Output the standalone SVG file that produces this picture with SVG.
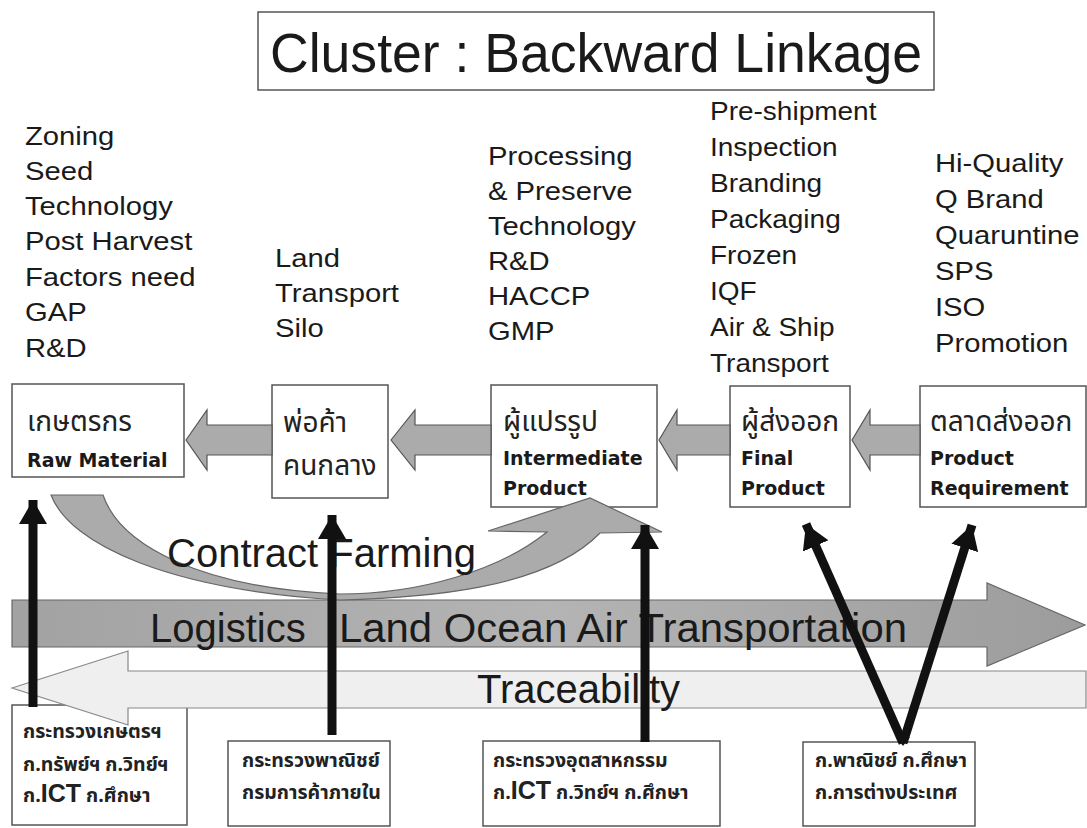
<svg xmlns="http://www.w3.org/2000/svg" width="1087" height="828" viewBox="0 0 1087 828">
<style>
.bg{fill:#ffffff}
.box{fill:#ffffff;stroke:#555;stroke-width:1.5}
.lst{font-family:"Liberation Sans",Arial,sans-serif;font-size:25px;fill:#1a1a1a}
.th{font-family:"Noto Sans Thai","Loma","Garuda","Norasi","Waree","Tlwg Typo","DejaVu Sans",sans-serif;font-size:28px;fill:#222}
.en{font-family:"DejaVu Sans",Verdana,sans-serif;font-weight:bold;font-size:19px;fill:#1a1a1a}
.thb{font-family:"Noto Sans Thai","Loma","Garuda","Norasi","Waree","Tlwg Typo","DejaVu Sans",sans-serif;font-weight:bold;font-size:19.5px;fill:#222}
.ict{font-family:"Liberation Sans",Arial,sans-serif;font-weight:bold;font-size:25px}
.big{font-family:"Liberation Sans",Arial,sans-serif;font-size:40px;fill:#1a1a1a}
.garrow{fill:#ababab;stroke:#555;stroke-width:1.2}
.blk{stroke:#111;stroke-width:9;fill:none}
</style>
<defs>
<marker id="ah" viewBox="0 0 24 28" refX="24" refY="14" markerWidth="24" markerHeight="28" markerUnits="userSpaceOnUse" orient="auto">
<path d="M0,0 L24,14 L0,28 Z" fill="#111"/>
</marker>
<linearGradient id="lg" x1="0" y1="0" x2="1" y2="0">
<stop offset="0" stop-color="#a2a2a2"/>
<stop offset="0.5" stop-color="#b4b4b4"/>
<stop offset="1" stop-color="#9c9c9c"/>
</linearGradient>
</defs>
<rect class="bg" x="0" y="0" width="1087" height="828"/>

<g id="title">
<rect x="258" y="12" width="676" height="78" class="box"/>
<text x="270" y="72" font-family="'Liberation Sans',Arial,sans-serif" font-size="55" fill="#1a1a1a" textLength="652" lengthAdjust="spacingAndGlyphs">Cluster : Backward Linkage</text>
</g>

<g id="lists">
<g transform="translate(25,0) scale(1.17,1)">
<text class="lst" x="0" y="145">Zoning</text>
<text class="lst" x="0" y="180">Seed</text>
<text class="lst" x="0" y="215">Technology</text>
<text class="lst" x="0" y="250">Post Harvest</text>
<text class="lst" x="0" y="286">Factors need</text>
<text class="lst" x="0" y="321">GAP</text>
<text class="lst" x="0" y="357">R&amp;D</text>
</g>
<g transform="translate(275,0) scale(1.17,1)">
<text class="lst" x="0" y="267">Land</text>
<text class="lst" x="0" y="302">Transport</text>
<text class="lst" x="0" y="337">Silo</text>
</g>
<g transform="translate(488,0) scale(1.17,1)">
<text class="lst" x="0" y="165">Processing</text>
<text class="lst" x="0" y="200">&amp; Preserve</text>
<text class="lst" x="0" y="235">Technology</text>
<text class="lst" x="0" y="270">R&amp;D</text>
<text class="lst" x="0" y="305">HACCP</text>
<text class="lst" x="0" y="340">GMP</text>
</g>
<g transform="translate(710,0) scale(1.12,1)">
<text class="lst" x="0" y="120">Pre-shipment</text>
<text class="lst" x="0" y="156">Inspection</text>
<text class="lst" x="0" y="192">Branding</text>
<text class="lst" x="0" y="228">Packaging</text>
<text class="lst" x="0" y="264">Frozen</text>
<text class="lst" x="0" y="300">IQF</text>
<text class="lst" x="0" y="336">Air &amp; Ship</text>
<text class="lst" x="0" y="372">Transport</text>
</g>
<g transform="translate(935,0) scale(1.17,1)">
<text class="lst" x="0" y="172">Hi-Quality</text>
<text class="lst" x="0" y="208">Q Brand</text>
<text class="lst" x="0" y="244">Quaruntine</text>
<text class="lst" x="0" y="280">SPS</text>
<text class="lst" x="0" y="316">ISO</text>
<text class="lst" x="0" y="352">Promotion</text>
</g>
</g>

<g id="n-farmer">
<rect class="box" x="12" y="384" width="172" height="93"/>
<text class="th" x="27" y="431">เกษตรกร</text>
<text class="en" x="27" y="467">Raw Material</text>
</g>
<g id="n-middleman">
<rect class="box" x="272" y="385" width="116" height="113"/>
<text class="th" x="283" y="432">พ่อค้า</text>
<text class="th" x="283" y="475">คนกลาง</text>
</g>
<g id="n-processor">
<rect class="box" x="491" y="385" width="166" height="122"/>
<text class="th" x="503" y="431">ผู้แปรรูป</text>
<text class="en" x="503" y="465">Intermediate</text>
<text class="en" x="503" y="495">Product</text>
</g>
<g id="n-exporter">
<rect class="box" x="730" y="386" width="120" height="121"/>
<text class="th" x="741" y="431">ผู้ส่งออก</text>
<text class="en" x="741" y="465">Final</text>
<text class="en" x="741" y="495">Product</text>
</g>
<g id="n-market">
<rect class="box" x="920" y="386" width="166" height="121"/>
<text class="th" x="930" y="431">ตลาดส่งออก</text>
<text class="en" x="930" y="465">Product</text>
<text class="en" x="930" y="495">Requirement</text>
</g>

<g id="g-agri">
<rect class="box" x="12" y="705" width="175" height="120"/>
<text class="thb" x="23" y="738">กระทรวงเกษตรฯ</text>
<text class="thb" x="23" y="771">ก.ทรัพย์ฯ ก.วิทย์ฯ</text>
<text class="thb" x="23" y="802">ก.<tspan class="ict">ICT</tspan> ก.ศึกษา</text>
</g>
<g id="g-commerce">
<rect class="box" x="228" y="741" width="162" height="85"/>
<text class="thb" x="242" y="767">กระทรวงพาณิชย์</text>
<text class="thb" x="242" y="799">กรมการค้าภายใน</text>
</g>
<g id="g-industry">
<rect class="box" x="483" y="741" width="237" height="85"/>
<text class="thb" x="493" y="767">กระทรวงอุตสาหกรรม</text>
<text class="thb" x="493" y="799">ก.<tspan class="ict">ICT</tspan> ก.วิทย์ฯ ก.ศึกษา</text>
</g>
<g id="g-foreign">
<rect class="box" x="803" y="742" width="172" height="84"/>
<text class="thb" x="815" y="767">ก.พาณิชย์ ก.ศึกษา</text>
<text class="thb" x="815" y="799">ก.การต่างประเทศ</text>
</g>

<g id="bands">
<path id="logistics" d="M12,600 L987,600 L987,583 L1085,625 L987,666 L987,647 L12,647 Z" fill="url(#lg)" stroke="#666" stroke-width="1.2"/>
<path id="traceability" d="M12,688 L128,651 L128,671 L1086,671 L1086,708 L128,708 L128,725 Z" fill="#efefef" stroke="#888" stroke-width="1.2"/>
<path id="contract" d="M51,495 C70,545 170,590 340,600 C420,598 545,590 600,533 L662,532 L590,498 L488,531 L547,532 C500,570 420,594 340,594 C200,588 120,545 103,495 Z" fill="#ababab" stroke="#666" stroke-width="1.2"/>
<text class="big" x="167" y="567">Contract Farming</text>
<text class="big" x="150" y="642">Logistics</text>
<text class="big" x="339" y="642" textLength="568" lengthAdjust="spacingAndGlyphs">Land Ocean Air Transportation</text>
<text class="big" x="477" y="703">Traceability</text>
</g>

<g id="connectors">
<path class="garrow" d="M186,440 L207,410 L207,425 L272,425 L272,455 L207,455 L207,470 Z"/>
<path class="garrow" d="M391,440 L415,410 L415,425 L491,425 L491,455 L415,455 L415,470 Z"/>
<path class="garrow" d="M659,440 L677,410 L677,425 L730,425 L730,455 L677,455 L677,470 Z"/>
<path class="garrow" d="M852,440 L870,410 L870,425 L920,425 L920,455 L870,455 L870,470 Z"/>
<line class="blk" x1="33" y1="707" x2="33" y2="500" marker-end="url(#ah)"/>
<line class="blk" x1="332" y1="735" x2="332" y2="515" marker-end="url(#ah)"/>
<line class="blk" x1="645" y1="742" x2="645" y2="525" marker-end="url(#ah)"/>
<line class="blk" x1="903" y1="743" x2="806" y2="524" marker-end="url(#ah)"/>
<line class="blk" x1="903" y1="743" x2="972" y2="525" marker-end="url(#ah)"/>
<path d="M903,746 L910,737 L896,737 Z" fill="#111"/>
</g>
</svg>
